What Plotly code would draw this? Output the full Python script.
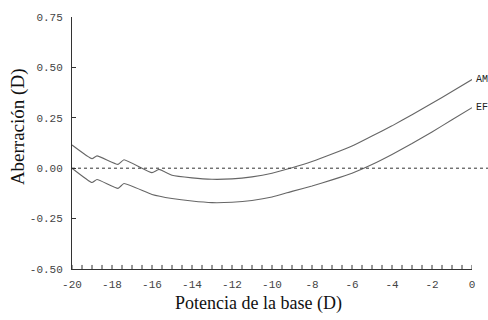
import plotly.graph_objects as go

# Data
am_x = [-20, -19.0, -18.75, -17.7, -17.4, -16.0, -15.65, -15, -14, -13, -12, -11, -10, -9, -8, -7, -6, -5, -4, -3, -2, -1, 0]
am_y = [0.115, 0.047, 0.061, 0.019, 0.042, -0.022, -0.006, -0.035, -0.048, -0.055, -0.053, -0.043, -0.025, 0.002, 0.033, 0.07, 0.11, 0.16, 0.21, 0.265, 0.322, 0.38, 0.44]

ef_x = [-20, -19.0, -18.75, -17.7, -17.4, -16, -15, -14, -13, -12, -11, -10, -9, -8, -7, -6, -5, -4, -3, -2, -1, 0]
ef_y = [0.0, -0.071, -0.056, -0.10, -0.076, -0.13, -0.15, -0.163, -0.171, -0.169, -0.16, -0.143, -0.115, -0.088, -0.058, -0.025, 0.018, 0.068, 0.122, 0.18, 0.24, 0.30]

x_ticks = [-20, -18, -16, -14, -12, -10, -8, -6, -4, -2, 0]
x_ticktext = ["-20", "-18", "-16", "-14", "-12", "-10", "-8", "-6", "-4", "-2", "0"]
y_ticks = [-0.5, -0.25, 0.0, 0.25, 0.5, 0.75]
y_ticktext = ["-0.50", "-0.25", "0.00", "0.25", "0.50", "0.75"]

series_labels = ["AM", "EF"]

minor_step = 0.5
all_ticks = [x_ticks[0] + i * minor_step for i in range(int((x_ticks[-1] - x_ticks[0]) / minor_step) + 1)]

line_col = "#666666"
fig = go.Figure()
fig.add_trace(go.Scatter(x=am_x, y=am_y, mode="lines",
                         line=dict(color=line_col, width=1.1, shape="spline", smoothing=0.4), showlegend=False))
fig.add_trace(go.Scatter(x=ef_x, y=ef_y, mode="lines",
                         line=dict(color=line_col, width=1.1, shape="spline", smoothing=0.4), showlegend=False))

# small tick marks every 0.5 D along the bottom axis
for v in all_ticks:
    fig.add_shape(type="line", xref="x", yref="paper", x0=v, x1=v, y0=0, y1=0.016,
                  line=dict(color="#333333", width=1))

# zero reference line (extends beyond plot)
fig.add_shape(type="line", xref="paper", yref="y", x0=0, x1=1.04, y0=0, y1=0,
              line=dict(color="#333333", width=1, dash="dot"))

mono = "Liberation Mono, Courier New, monospace"
serif = "Liberation Serif, Times New Roman, serif"

for lab, yv in zip(series_labels, [am_y[-1], ef_y[-1]]):
    fig.add_annotation(x=0, y=yv, xref="x", yref="y", text=lab, showarrow=False,
                       xanchor="left", yanchor="middle", xshift=2,
                       font=dict(family=mono, size=10, color="#222222"))

fig.add_annotation(x=-0.135, y=0.563, xref="paper", yref="paper", text="Aberración (D)",
                   textangle=-90, showarrow=False, xanchor="center", yanchor="middle",
                   font=dict(family=serif, size=19, color="#111111"))
fig.add_annotation(x=0.465, y=-0.138, xref="paper", yref="paper", text="Potencia de la base (D)",
                   showarrow=False, xanchor="center", yanchor="middle",
                   font=dict(family=serif, size=18, color="#111111"))

fig.update_layout(
    width=488, height=320,
    margin=dict(l=72, r=16, t=15, b=51),
    paper_bgcolor="white", plot_bgcolor="white",
    xaxis=dict(range=[-20, 0], tickmode="array", tickvals=x_ticks, ticktext=x_ticktext,
               showgrid=False, zeroline=False,
               showline=True, linecolor="#333333", linewidth=1, ticks="",
               tickfont=dict(family=mono, size=11, color="#444444"),
               ticklabelstandoff=5),
    yaxis=dict(range=[-0.5, 0.75], tickvals=y_ticks, ticktext=y_ticktext, showgrid=False, zeroline=False,
               showline=True, linecolor="#333333", linewidth=1, ticks="inside", ticklen=4,
               tickcolor="#333333", tickfont=dict(family=mono, size=11, color="#444444"),
               ticklabelstandoff=6),
)

fig.write_html("out.html")
